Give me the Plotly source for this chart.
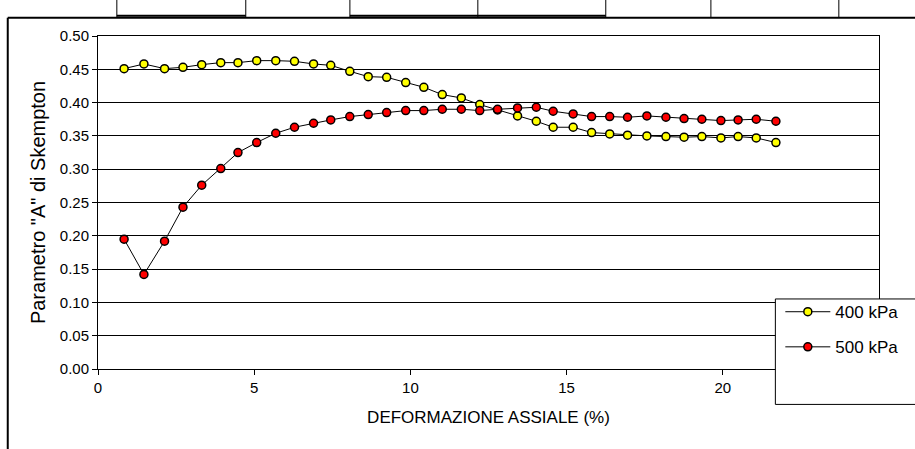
import plotly.graph_objs as go

# deformazione assiale (%)
strain = [0.835, 1.47, 2.13, 2.72, 3.32, 3.93, 4.48, 5.08, 5.69, 6.29, 6.90, 7.45,
          8.06, 8.65, 9.24, 9.85, 10.43, 11.02, 11.63, 12.22, 12.79, 13.43, 14.03, 14.57,
          15.21, 15.80, 16.38, 16.95, 17.57, 18.18, 18.76, 19.33, 19.94, 20.49, 21.07, 21.70]

a_400 = [0.451, 0.458, 0.451, 0.453, 0.457, 0.460, 0.460, 0.463, 0.463, 0.462, 0.458, 0.456,
         0.447, 0.439, 0.438, 0.430, 0.423, 0.412, 0.407, 0.397, 0.389, 0.380, 0.372, 0.363,
         0.363, 0.355, 0.353, 0.351, 0.350, 0.349, 0.348, 0.349, 0.347, 0.349, 0.347, 0.340]

a_500 = [0.195, 0.142, 0.192, 0.243, 0.276, 0.301, 0.325, 0.340, 0.354, 0.363, 0.369, 0.374,
         0.379, 0.382, 0.385, 0.388, 0.388, 0.390, 0.390, 0.388, 0.390, 0.392, 0.393, 0.387,
         0.383, 0.379, 0.379, 0.378, 0.380, 0.378, 0.376, 0.375, 0.373, 0.374, 0.375, 0.372]

series_names = ['400 kPa', '500 kPa']
x_ticks = [0, 5, 10, 15, 20]
y_ticks = [0, 0.05, 0.10, 0.15, 0.20, 0.25, 0.30, 0.35, 0.40, 0.45, 0.50]

FONT = 'Liberation Sans, Arial, sans-serif'

W, H = 915, 449
L, R, T, B = 98, 885.5, 35.7, 369.5   # plot area in pixels


def px(x):
    return (x - L) / (R - L)


def py(y):
    return (B - y) / (B - T)


def seg(x0, y0, x1, y1, w=1):
    return dict(type='line', xref='paper', yref='paper',
                x0=px(x0), y0=py(y0), x1=px(x1), y1=py(y1),
                line=dict(color='black', width=w))


data = [
    go.Scatter(x=strain, y=a_400, name=series_names[0], mode='lines+markers',
               legendgroup='a', line=dict(color='black', width=1),
               marker=dict(size=8, color='#ffff00', line=dict(color='black', width=1.5))),
    go.Scatter(x=strain, y=a_500, name=series_names[1], mode='lines+markers',
               legendgroup='b', line=dict(color='black', width=1),
               marker=dict(size=8, color='#ff0000', line=dict(color='black', width=1.5))),
]

shapes = [
    # legend box
    dict(type='rect', xref='paper', yref='paper', layer='above',
         x0=px(781), x1=px(940), y0=py(405), y1=py(299.3),
         fillcolor='white', line=dict(color='black', width=1)),
    # frame of the page / table above the chart
    seg(7, 17.5, 930, 17.5, 2),
    seg(7, 17.5, 7, 460, 2),
    seg(117, 15.5, 247, 15.5, 2),
    seg(352, 15.5, 610, 15.5, 2),
]
for xv in [117, 247, 352, 481, 610, 716, 845]:
    shapes.append(seg(xv, -5, xv, 17, 1))

layout = go.Layout(
    width=W, height=H,
    margin=dict(l=L, r=W - R, t=T, b=H - B),
    paper_bgcolor='white', plot_bgcolor='white',
    font=dict(family=FONT, size=15, color='black'),
    showlegend=True,
    legend=dict(x=px(786), y=py(294.5), xanchor='left', yanchor='top',
                bgcolor='rgba(0,0,0,0)', borderwidth=0, itemwidth=45,
                traceorder='grouped', tracegroupgap=10,
                font=dict(family=FONT, size=17)),
    xaxis=dict(range=[0, 25], tickvals=x_ticks, showgrid=False, zeroline=False,
               showline=True, linecolor='black', linewidth=1, mirror=True,
               ticks='outside', ticklen=5, tickcolor='black', automargin=False,
               title=dict(text='DEFORMAZIONE ASSIALE (%)', font=dict(size=17), standoff=16)),
    yaxis=dict(range=[0, 0.5], tickvals=y_ticks, tickformat='.2f',
               showgrid=True, gridcolor='black', gridwidth=1, zeroline=False,
               showline=True, linecolor='black', linewidth=1, mirror=True,
               ticks='outside', ticklen=5, tickcolor='black', automargin=False,
               title=dict(text='Parametro "A" di Skempton', font=dict(size=20), standoff=8)),
    shapes=shapes,
)

fig = go.Figure(data=data, layout=layout)
# the chart fills the whole window, so drop the page margin
fig.write_html('out.html', config={'displayModeBar': False},
               post_script="document.body.style.margin='0';document.body.style.overflow='hidden';")
